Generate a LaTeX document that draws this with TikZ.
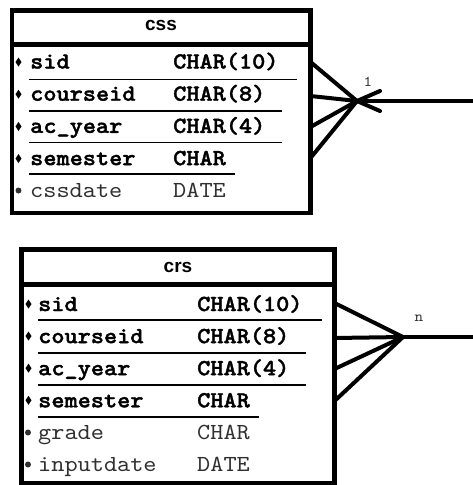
\documentclass[tikz,border=0pt]{standalone}
\usepackage{fontspec}
\newfontfamily\monofont[Extension=.otf,BoldFont=lmmonolt10-bold,BoldFeatures={FakeBold=1.6},FakeStretch=1.09]{lmmono10-regular}
\newfontfamily\headfont{Liberation Sans}
\definecolor{attrgrey}{HTML}{303030}
\begin{document}
\begin{tikzpicture}[x=1pt,y=-1pt,
  tablebox/.style={draw=black,line width=4.5pt,rectangle,anchor=north west,outer sep=0pt,inner sep=0pt},
  frameline/.style={draw=black,line width=4.5pt},
  keyrule/.style={draw=black,line width=1.9pt},
  link/.style={draw=black,line width=4pt,line cap=round},
  keytxt/.style={anchor=base west,inner sep=0pt,font=\monofont\bfseries\fontsize{23}{25}\selectfont,text=black},
  attrtxt/.style={anchor=base west,inner sep=0pt,font=\monofont\fontsize{23}{25}\selectfont,text=attrgrey},
  headtxt/.style={anchor=base,inner sep=0pt,font=\headfont\bfseries\fontsize{19}{22}\selectfont},
  cardtxt/.style={anchor=base,inner sep=0pt,font=\monofont\fontsize{15}{17}\selectfont,text=attrgrey}]

\useasboundingbox (0,0) rectangle (472,485);

% ---------- table css ----------
\node[tablebox,minimum width=298.5pt,minimum height=202.5pt] (css) at (12,10.5) {};
\draw[frameline] (12,44.5) -- (310.5,44.5);
\node[headtxt] (cssHead) at (161,30) {css};

\node[keytxt] (cssN1) at (30,68.5) {sid};
\node[keytxt] (cssT1) at (173,68.5) {CHAR(10)};
\node[keytxt] (cssN2) at (30,100.7) {courseid};
\node[keytxt] (cssT2) at (173,100.7) {CHAR(8)};
\node[keytxt] (cssN3) at (30,132.9) {ac\_year};
\node[keytxt] (cssT3) at (173,132.9) {CHAR(4)};
\node[keytxt] (cssN4) at (30,165.1) {semester};
\node[keytxt] (cssT4) at (173,165.1) {CHAR};
\node[attrtxt] (cssN5) at (30,197.3) {cssdate};
\node[attrtxt] (cssT5) at (173,197.3) {DATE};

\draw[keyrule] (29,79.5) -- (297,79.5);
\draw[keyrule] (29,111) -- (282,111);
\draw[keyrule] (29,142.5) -- (282,142.5);
\draw[keyrule] (29,174) -- (235,174);

\foreach \yb in {68.5,100.7,132.9,165.1}
  \fill (18.5,\yb-11) -- (21.5,\yb-6.5) -- (18.5,\yb-2) -- (15.5,\yb-6.5) -- cycle;
\fill[attrgrey] (18.5,190.5) circle[radius=3];

% ---------- table crs ----------
\node[tablebox,minimum width=313pt,minimum height=233.5pt] (crs) at (21.5,249.5) {};
\draw[frameline] (21.5,284.5) -- (334.5,284.5);
\node[headtxt] (crsHead) at (178,272) {crs};

\node[keytxt] (crsN1) at (38,311) {sid};
\node[keytxt] (crsT1) at (197,311) {CHAR(10)};
\node[keytxt] (crsN2) at (38,343.1) {courseid};
\node[keytxt] (crsT2) at (197,343.1) {CHAR(8)};
\node[keytxt] (crsN3) at (38,375.2) {ac\_year};
\node[keytxt] (crsT3) at (197,375.2) {CHAR(4)};
\node[keytxt] (crsN4) at (38,407.3) {semester};
\node[keytxt] (crsT4) at (197,407.3) {CHAR};
\node[attrtxt] (crsN5) at (38,439.4) {grade};
\node[attrtxt] (crsT5) at (197,439.4) {CHAR};
\node[attrtxt] (crsN6) at (38,471.5) {inputdate};
\node[attrtxt] (crsT6) at (197,471.5) {DATE};

\draw[keyrule] (38,320) -- (322,320);
\draw[keyrule] (38,353) -- (306,353);
\draw[keyrule] (38,385) -- (306,385);
\draw[keyrule] (38,417) -- (259,417);

\foreach \yb in {311,343.1,375.2,407.3}
  \fill (28.5,\yb-11.5) -- (31.5,\yb-7) -- (28.5,\yb-2.5) -- (25.5,\yb-7) -- cycle;
\fill[attrgrey] (28,432.5) circle[radius=3];
\fill[attrgrey] (28,464.5) circle[radius=3];

% ---------- relationship ends ----------
% css side: crow's foot with an open arrow, cardinality 1
\coordinate (cssApex) at (357,101);
\coordinate (cssF1) at (310.5,62);
\coordinate (cssF2) at (310.5,96);
\coordinate (cssF3) at (310.5,127);
\coordinate (cssF4) at (310.5,158);
\coordinate (cssEnd) at (473,101);
\coordinate (cssArrA) at (380,91);
\coordinate (cssArrB) at (380,111);
\draw[link] (cssF1) -- (cssApex);
\draw[link] (cssF2) -- (cssApex);
\draw[link] (cssF3) -- (cssApex);
\draw[link] (cssF4) -- (cssApex);
\draw[link,line cap=butt] (cssApex) -- (cssEnd);
\draw[link] (cssArrA) -- (cssApex) -- (cssArrB);
\node[cardtxt] (cssCard) at (368,86) {1};

% crs side: crow's foot, cardinality n
\coordinate (crsApex) at (403,337);
\coordinate (crsF1) at (334.5,303);
\coordinate (crsF2) at (334.5,338);
\coordinate (crsF3) at (334.5,369);
\coordinate (crsF4) at (334.5,401);
\coordinate (crsEnd) at (473,337);
\draw[link] (crsF1) -- (crsApex);
\draw[link] (crsF2) -- (crsApex);
\draw[link] (crsF3) -- (crsApex);
\draw[link] (crsF4) -- (crsApex);
\draw[link,line cap=butt] (crsApex) -- (crsEnd);
\node[cardtxt] (crsCard) at (419,321) {n};
\end{tikzpicture}
\end{document}
